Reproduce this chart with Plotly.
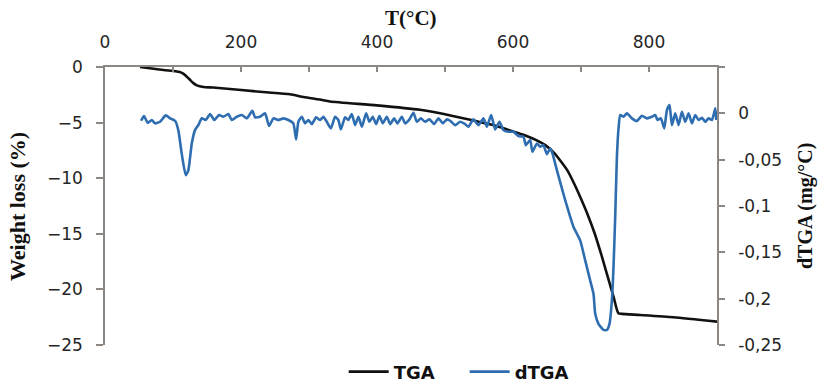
import plotly.graph_objects as go

# TGA curve: temperature (°C) vs weight loss (%)
tga_temp = [51.5, 80, 110, 115, 120, 125, 130, 135, 145, 159, 232, 272, 292,
            316, 331, 400, 463, 500, 537, 578, 600, 620, 635, 648, 660, 670,
            680, 690, 700, 710, 720, 730, 740, 748, 755, 760, 787, 836, 900]
tga_loss = [0, -0.23, -0.45, -0.6, -0.85, -1.15, -1.45, -1.65, -1.8, -1.85,
            -2.25, -2.45, -2.7, -2.93, -3.1, -3.45, -3.85, -4.25, -4.75, -5.35,
            -5.8, -6.2, -6.6, -7.05, -7.7, -8.45, -9.3, -10.5, -11.85, -13.3,
            -14.95, -16.9, -19.0, -20.7, -22.15, -22.2, -22.3, -22.5, -22.9]

# Derivative curve: temperature (°C) vs dTGA (mg/°C)
dtga_temp = [53.0, 57.4, 62.8, 68.7, 73.6, 80.9, 89.3, 95.6, 103.0, 107.8,
             112.8, 118.7, 122.6, 127.6, 132.4, 137.3, 142.3, 148.2, 154.5,
             160.8, 167.7, 174.0, 181.4, 186.4, 193.8, 201.1, 208.5, 216.7,
             220.7, 228.0, 235.4, 241.3, 247.6, 255.0, 262.3, 269.7, 277.0,
             281.0, 284.4, 289.4, 294.2, 299.1, 304.1, 310.4, 316.3, 321.2,
             326.2, 332.1, 338.4, 343.2, 346.8, 353.1, 357.9, 362.9, 367.8,
             372.7, 377.7, 384.0, 388.8, 393.8, 398.7, 403.6, 408.6, 414.4,
             419.3, 425.2, 430.0, 436.5, 441.4, 447.7, 453.6, 458.6, 464.5,
             470.8, 477.1, 484.0, 490.4, 496.8, 502.7, 507.6, 514.9, 522.3,
             529.6, 534.5, 541.8, 549.2, 556.6, 561.6, 567.9, 573.8, 580.1,
             586.0, 593.3, 600.7, 608.0, 615.4, 618.9, 625.3, 628.6, 635.1,
             640.0, 644.8, 649.8, 654.7, 658.1, 662.0, 664.5, 676.8, 684.2,
             689.0, 698.8, 706.2, 713.5, 718.4, 720.9, 725.7, 733.1, 738.1,
             741.9, 745.4, 747.8, 750.3, 752.8, 755.2, 757.7, 762.5, 767.5,
             774.9, 782.2, 789.6, 796.9, 804.3, 809.2, 812.5, 817.5, 822.4,
             826.4, 830.2, 833.7, 838.6, 843.5, 848.4, 853.3, 858.2, 863.2,
             868.0, 872.9, 877.9, 882.7, 887.6, 892.6, 897.5, 899.0]
dtga_val = [-0.0080, -0.0029, -0.0102, -0.0072, -0.0108, -0.0091, -0.0022,
            -0.0054, -0.0080, -0.0181, -0.0433, -0.0668, -0.0613, -0.0325,
            -0.0181, -0.0127, -0.0054, -0.0072, -0.0008, -0.0072, -0.0018,
            -0.0037, -0.0008, -0.0072, -0.0037, -0.0018, -0.0054, 0.0028,
            -0.0043, -0.0037, 0.0000, -0.0137, -0.0054, -0.0072, -0.0054,
            -0.0072, -0.0108, -0.0281, -0.0091, -0.0037, -0.0108, -0.0072,
            -0.0116, -0.0043, -0.0072, -0.0037, -0.0091, -0.0162, -0.0037,
            -0.0072, -0.0173, -0.0043, -0.0072, -0.0008, -0.0127, -0.0037,
            -0.0145, 0.0000, -0.0091, -0.0037, -0.0116, -0.0029, -0.0108,
            -0.0037, -0.0116, -0.0054, -0.0108, -0.0037, -0.0108, -0.0065,
            0.0006, -0.0091, -0.0054, -0.0091, -0.0065, -0.0116, -0.0054,
            -0.0108, -0.0065, -0.0080, -0.0127, -0.0091, -0.0116, -0.0145,
            -0.0065, -0.0127, -0.0054, -0.0145, -0.0018, -0.0173, -0.0091,
            -0.0181, -0.0199, -0.0199, -0.0246, -0.0253, -0.0343, -0.0289,
            -0.0415, -0.0325, -0.0361, -0.0343, -0.0440, -0.0379, -0.0433,
            -0.0541, -0.0613, -0.0938, -0.1119, -0.1227, -0.1371, -0.1587,
            -0.1804, -0.1948, -0.2164, -0.2272, -0.2337, -0.2337, -0.2272,
            -0.2020, -0.1660, -0.1119, -0.0470, -0.0162, -0.0018, -0.0037,
            0.0000, -0.0054, -0.0083, -0.0026, -0.0054, -0.0037, -0.0018,
            -0.0072, -0.0054, -0.0162, 0.0036, 0.0090, -0.0127, 0.0000,
            -0.0127, 0.0017, -0.0091, 0.0000, -0.0108, -0.0018, -0.0072,
            -0.0048, -0.0091, -0.0054, -0.0072, 0.0054, -0.0072]

# Axis ticks
x_tickvals = [0, 100, 200, 300, 400, 500, 600, 700, 800, 900]
x_ticktext = ["0", "", "200", "", "400", "", "600", "", "800", ""]
y_tickvals = [0, -5, -10, -15, -20, -25]
y2_tickvals = [0.05, 0, -0.05, -0.1, -0.15, -0.2, -0.25]
y2_ticktext = ["", "0", "-0,05", "-0,1", "-0,15", "-0,2", "-0,25"]

AXIS_COLOR = "#8c8782"
TICK_FONT = dict(family="DejaVu Sans", size=17, color="#262626")
TITLE_FONT = dict(family="Liberation Serif", size=21, color="#111111")

fig = go.Figure()
fig.add_trace(go.Scatter(
    x=tga_temp, y=tga_loss, name="TGA", mode="lines",
    line=dict(color="#111111", width=2.6, shape="spline", smoothing=0.6),
    yaxis="y",
))
fig.add_trace(go.Scatter(
    x=dtga_temp, y=dtga_val, name="dTGA", mode="lines",
    line=dict(color="#2f6db1", width=2.6, shape="spline", smoothing=0.5),
    yaxis="y2",
))

fig.update_layout(
    width=819, height=383,
    margin=dict(l=105, r=102, t=67, b=38, autoexpand=False),
    paper_bgcolor="white", plot_bgcolor="white",
    showlegend=True,
    legend=dict(
        orientation="h", x=0.39, xanchor="left", y=-0.097, yanchor="middle",
        font=dict(family="DejaVu Sans", size=18, color="#111111", weight="bold"),
        itemwidth=40, entrywidth=66, entrywidthmode="pixels",
        bgcolor="rgba(0,0,0,0)",
    ),
    xaxis=dict(
        side="top", range=[0, 900], tickvals=x_tickvals, ticktext=x_ticktext,
        ticks="inside", ticklen=5, tickcolor=AXIS_COLOR, tickwidth=1.5,
        showline=True, linecolor=AXIS_COLOR, linewidth=1.5,
        showgrid=False, zeroline=False, tickfont=TICK_FONT,
        ticklabelstandoff=10,
    ),
    yaxis=dict(
        range=[-25, 0], tickvals=y_tickvals,
        ticks="outside", ticklen=7, tickcolor=AXIS_COLOR, tickwidth=1.5,
        showline=True, linecolor=AXIS_COLOR, linewidth=1.5,
        showgrid=False, zeroline=False, tickfont=TICK_FONT,
        ticklabelstandoff=10,
    ),
    yaxis2=dict(
        overlaying="y", side="right", range=[-0.25, 0.05],
        tickvals=y2_tickvals, ticktext=y2_ticktext,
        ticks="outside", ticklen=6, tickcolor=AXIS_COLOR, tickwidth=1.5,
        showline=True, linecolor=AXIS_COLOR, linewidth=1.5,
        showgrid=False, zeroline=False, tickfont=TICK_FONT,
        ticklabelstandoff=10,
    ),
    annotations=[
        dict(text="<b>T(°C)</b>", xref="paper", yref="paper", x=0.5, y=1.175,
             xanchor="center", yanchor="middle", showarrow=False, font=TITLE_FONT),
        dict(text="<b>Weight loss (%)</b>", xref="paper", yref="paper",
             x=-0.1438, y=0.5, xanchor="center", yanchor="middle",
             textangle=-90, showarrow=False,
             font=dict(family="Liberation Serif", size=22, color="#111111")),
        dict(text="<b>dTGA (mg/°C)</b>", xref="paper", yref="paper",
             x=1.1438, y=0.5, xanchor="center", yanchor="middle",
             textangle=-90, showarrow=False,
             font=dict(family="Liberation Serif", size=20, color="#111111")),
    ],
)

fig.write_html("out.html")
